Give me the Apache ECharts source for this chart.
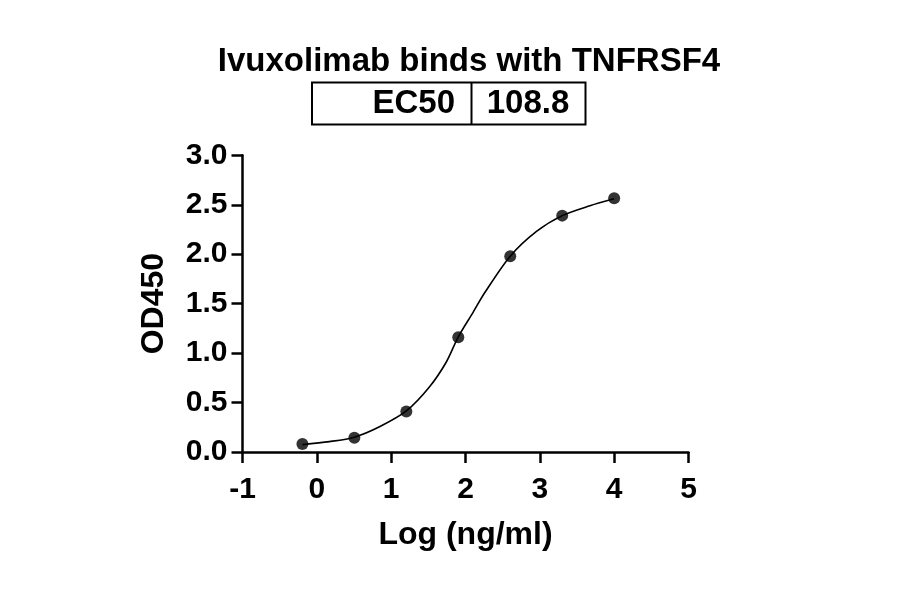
<!DOCTYPE html>
<html>
<head>
<meta charset="utf-8">
<script src="https://cdn.jsdelivr.net/npm/echarts@6/dist/echarts.min.js"></script>
<style>
html,body{margin:0;padding:0;background:#fff;}
#chart{width:900px;height:594px;}
</style>
</head>
<body>
<div id="chart"></div>
<script>
const chartTitle = 'Ivuxolimab binds with TNFRSF4';
const tableLabel = 'EC50';
const tableValue = '108.8';
// measured points
const logConc = [-0.194, 0.505, 1.204, 1.903, 2.602, 3.301, 4.0];
const od450 = [0.08, 0.145, 0.41, 1.16, 1.98, 2.39, 2.565];
// fitted curve
const curveX = [-0.194, 0.169, 0.505, 0.843, 1.204, 1.517, 1.742, 1.903, 2.100, 2.258, 2.602, 2.955, 3.301, 3.674, 4.0];
const curveY = [0.075, 0.105, 0.150, 0.255, 0.415, 0.66, 0.91, 1.165, 1.41, 1.61, 1.98, 2.23, 2.39, 2.49, 2.56];
const xName = 'Log (ng/ml)';
const yName = 'OD450';

const FONT = '"Liberation Sans", Arial, sans-serif';
const points = logConc.map((x, i) => [x, od450[i]]);
const curve = curveX.map((x, i) => [x, curveY[i]]);

const chart = echarts.init(document.getElementById('chart'));
chart.setOption({
  backgroundColor: '#fff',
  animation: false,
  title: {
    text: chartTitle,
    left: 464,
    textAlign: 'center',
    top: 40,
    textStyle: {fontFamily: FONT, fontWeight: 'bold', fontSize: 33, color: '#000'}
  },
  grid: {left: 242.5, right: 211.5, top: 155.3, bottom: 142, containLabel: false},
  xAxis: {
    type: 'value', min: -1, max: 5, interval: 1,
    name: xName, nameLocation: 'middle', nameGap: 67,
    nameTextStyle: {fontFamily: FONT, fontWeight: 'bold', fontSize: 32, color: '#000'},
    axisLine: {onZero: false, lineStyle: {color: '#000', width: 2.5}},
    axisTick: {length: 11, lineStyle: {color: '#000', width: 2.5}},
    axisLabel: {margin: 23, fontFamily: FONT, fontWeight: 'bold', fontSize: 30, color: '#000'},
    splitLine: {show: false}
  },
  yAxis: {
    type: 'value', min: 0, max: 3, interval: 0.5,
    name: yName, nameLocation: 'middle', nameGap: 72, nameRotate: 90,
    nameTextStyle: {fontFamily: FONT, fontWeight: 'bold', fontSize: 32, color: '#000'},
    axisLine: {show: true, onZero: false, lineStyle: {color: '#000', width: 2.5}},
    axisTick: {show: true, length: 11, lineStyle: {color: '#000', width: 2.5}},
    axisLabel: {margin: 15, fontFamily: FONT, fontWeight: 'bold', fontSize: 30, color: '#000',
      formatter: v => v.toFixed(1)},
    splitLine: {show: false}
  },
  series: [
    {
      type: 'line', data: curve, smooth: 0.3,
      showSymbol: false, lineStyle: {color: '#000', width: 1.6}, z: 2
    },
    {
      type: 'scatter', data: points, symbol: 'circle', symbolSize: 12,
      itemStyle: {color: '#000'}, z: 3
    }
  ],
  graphic: [
    {type: 'rect', shape: {x: 312, y: 82.5, width: 273.5, height: 42},
      style: {fill: 'none', stroke: '#000', lineWidth: 2}},
    {type: 'line', shape: {x1: 471.5, y1: 82.5, x2: 471.5, y2: 124.5},
      style: {stroke: '#000', lineWidth: 2}},
    {type: 'text', x: 455, y: 104, style: {text: tableLabel, fontFamily: FONT, fontWeight: 'bold',
      fontSize: 33, fill: '#000', textAlign: 'right', textVerticalAlign: 'middle'}},
    {type: 'text', x: 528, y: 104, style: {text: tableValue, fontFamily: FONT, fontWeight: 'bold',
      fontSize: 33, fill: '#000', textAlign: 'center', textVerticalAlign: 'middle'}}
  ]
});
</script>
</body>
</html>
